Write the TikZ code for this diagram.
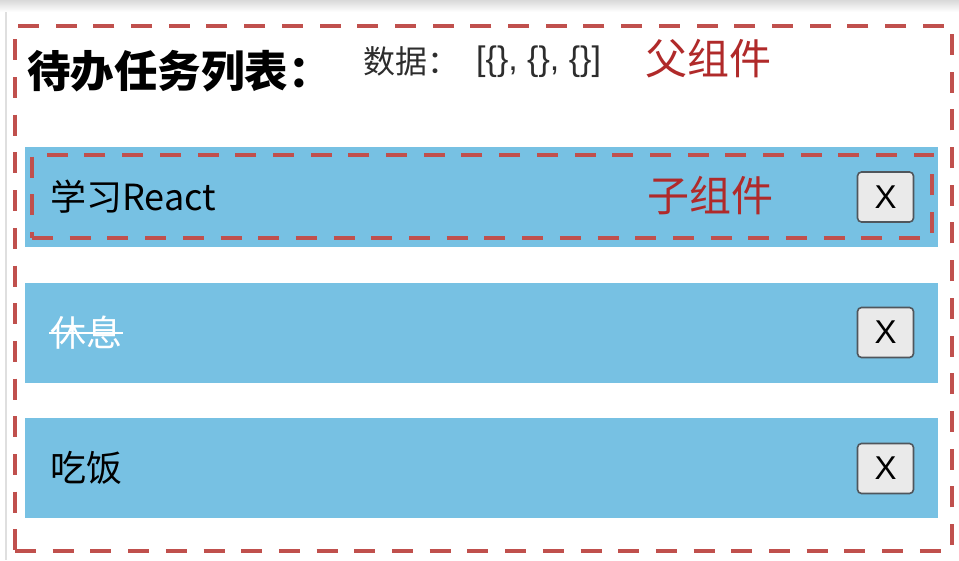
\documentclass[tikz,border=0pt]{standalone}
\usepackage{fontspec}
\newfontfamily\cjk{Noto Sans CJK SC}
\newfontfamily\lat{Liberation Sans}
\definecolor{barblue}{RGB}{119,193,227}
\definecolor{dashred}{RGB}{192,80,77}
\definecolor{labelred}{RGB}{176,42,42}
\definecolor{btnfill}{RGB}{234,234,234}
\definecolor{btnborder}{RGB}{80,86,92}
\definecolor{datagrey}{RGB}{45,45,45}
\begin{document}
\begin{tikzpicture}[x=1pt,y=-1pt,
  bar/.style={fill=barblue, draw=none, anchor=north west, minimum width=913pt, minimum height=100pt, inner sep=0pt, outer sep=0pt},
  redbox/.style={draw=dashred, line width=4pt, dash pattern=on 21pt off 16.7pt, anchor=north west, inner sep=0pt, outer sep=0pt},
  btn/.style={draw=btnborder, fill=btnfill, line width=1.6pt, rounded corners=4pt, minimum width=56pt, minimum height=50pt, inner sep=0pt, font=\lat\fontsize{33}{35}\selectfont},
  item/.style={anchor=west, inner sep=0pt, font=\cjk\fontsize{36}{42}\selectfont},
  label/.style={anchor=west, inner sep=0pt, text=labelred, font=\cjk\fontsize{42}{46}\selectfont}]

\useasboundingbox (0,0) rectangle (959,560);
\fill[white] (0,0) rectangle (959,560);
\shade[top color=gray!30, bottom color=white] (0,0) rectangle (959,12);
\draw[gray!25, line width=1.5pt] (6,12) -- (6,560);

% bars
\node[bar] (bar1) at (25,147) {};
\node[bar] (bar2) at (25,283) {};
\node[bar] (bar3) at (25,418) {};

% parent frame
\node[redbox, minimum width=937pt, minimum height=525pt] (parent) at (15,25.5) {};
% child frame
\node[redbox, minimum width=900pt, minimum height=83pt] (child) at (32,154.5) {};

% header
\node[anchor=west, inner sep=0pt, font=\cjk\bfseries\fontsize{43.5}{48}\selectfont] (title) at (27,71) {待办任务列表：};
\node[anchor=west, inner sep=0pt, text=datagrey, font=\cjk\fontsize{32}{36}\selectfont] (data) at (363,61) {数据：};
\node[anchor=west, inner sep=0pt, text=datagrey, font=\lat\fontsize{34}{36}\selectfont] (arr) at (476,61.5) {[\{\}, \{\}, \{\}]};
\node[label] (plabel) at (645,59) {父组件};

% items
\node[item] (t1) at (50,197) {学习React};
\node[label] (clabel) at (647,196) {子组件};
\node[item, text=white] (t2) at (50,333) {休息};
\draw[white, line width=2pt] ([xshift=-1pt]t2.west) -- ([xshift=1pt]t2.east);
\node[item] (t3) at (50,468) {吃饭};

% buttons
\node[btn] (b1) at (885.5,197) {X};
\node[btn] (b2) at (885.5,332.5) {X};
\node[btn] (b3) at (885.5,468.5) {X};
\end{tikzpicture}
\end{document}
